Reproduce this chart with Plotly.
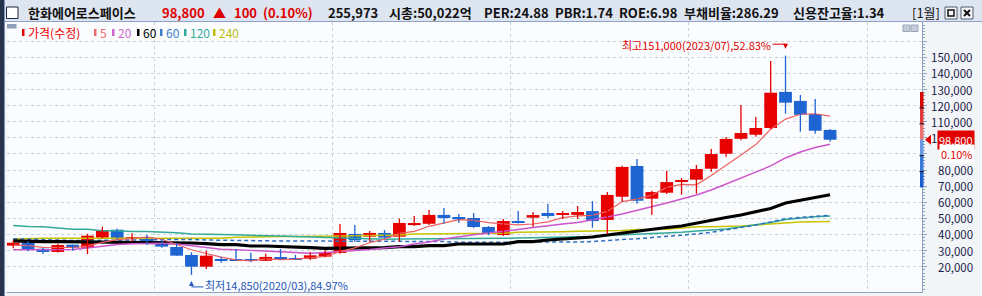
import plotly.graph_objects as go
import pandas as pd

# ---------------- data ----------------
months = [p.strftime("%Y/%m") for p in pd.period_range("2019-03", "2023-10", freq="M")]

opens = [33000, 35100, 31100, 29100, 33600, 31700, 38000, 42900, 37100, 38400,
         35900, 32200, 27200, 19950, 24700, 24700, 24700, 23600, 25400, 25300,
         24900, 26200, 28500, 40300, 38600, 40900, 38600, 45800, 46600, 52100,
         50800, 50200, 44600, 39600, 48300, 50400, 53300, 52100, 52100, 54500,
         49000, 63400, 82500, 62200, 65900, 72700, 74000, 80800, 90100, 99400,
         101900, 106100, 128500, 122900, 114800, 104900]
highs = [36100, 35900, 31700, 34200, 33700, 40400, 44800, 43500, 40700, 39600,
         37100, 34500, 28900, 29900, 26200, 30900, 28600, 28000, 30900, 27300,
         28900, 30300, 46500, 45800, 42100, 42700, 49800, 51400, 55200, 56400,
         52700, 53300, 45200, 49600, 54500, 53900, 58900, 54500, 57600, 60700,
         66300, 82700, 86800, 67100, 79600, 75000, 83100, 93000, 100500, 120400,
         112900, 147700, 151000, 126600, 124100, 105500]
lows = [31400, 29500, 27800, 28700, 29900, 27800, 37500, 37000, 35500, 33600,
        31700, 26700, 14850, 18500, 22400, 23600, 23000, 23500, 24500, 24400,
        24100, 25800, 28000, 35500, 35500, 37500, 35500, 45200, 45800, 46600,
        47300, 44000, 39600, 39000, 46800, 44800, 50200, 49600, 49600, 44200,
        40300, 60300, 59100, 52000, 65100, 64700, 65300, 78900, 88300, 98500,
        100700, 105500, 115000, 103800, 102500, 97600]
closes = [34850, 30300, 29100, 33400, 31700, 39200, 42100, 37300, 38400, 34700,
          32400, 26800, 19950, 26800, 23500, 24000, 23600, 26000, 24800, 24700,
          27000, 28900, 40900, 36500, 40900, 38000, 47100, 47100, 52100, 50200,
          49400, 44600, 40300, 48300, 47100, 52000, 51400, 53300, 53900, 48300,
          64500, 81900, 60900, 66300, 72500, 73800, 80600, 89900, 99300, 103000,
          106100, 128000, 121800, 114300, 104400, 98800]

ma5 = [33500, 33000, 32000, 32000, 31870, 32740, 35100, 36740, 37740, 38340,
       36980, 33920, 30450, 28130, 25890, 24210, 23570, 24780, 24380, 24620,
       25220, 26280, 29260, 31600, 34840, 37040, 40680, 41920, 45040, 46900,
       49180, 48680, 47320, 46560, 45940, 46460, 47820, 50420, 51540, 51780,
       54280, 60380, 61900, 64380, 69220, 71080, 70820, 76620, 83220, 89320,
       95780, 105260, 111640, 114640, 114920, 113460]
ma20 = [30500, 30500, 30500, 30500, 30600, 31550, 32610, 33730, 34160, 34480,
        34480, 34040, 32800, 31550, 30750, 30500, 30000, 29700, 28890, 28450,
        28260, 28760, 29260, 30000, 30630, 31560, 32360, 34040, 35280, 37140,
        38570, 39800, 40870, 41800, 43050, 44290, 45530, 46460, 47390, 48950,
        50810, 52670, 54850, 57020, 59500, 61990, 64470, 67580, 71310, 75040,
        78760, 82490, 87460, 91190, 93980, 95960]
ma60 = [36000, 35600, 35500, 35500, 35400, 35400, 35500, 35500, 35400, 35300,
        35100, 34660, 34660, 34230, 33600, 33600, 32800, 32800, 32360, 31740,
        31740, 31370, 31370, 31740, 31740, 31740, 32360, 32360, 32980, 32980,
        34040, 34040, 34040, 34040, 35470, 35470, 36520, 37140, 37760, 38390,
        39630, 40870, 41800, 43050, 44290, 45220, 47080, 48950, 50500, 52050,
        53910, 56090, 59500, 61370, 62920, 64660]
ma60b = [37330, 36960, 36520, 36210, 36210, 36210, 36210, 36330, 36520, 36710,
         36840, 36840, 36840, 36520, 36330, 36210, 36090, 36090, 35900, 35900,
         35900, 35900, 35720, 35720, 35720, 35720, 35720, 35720, 35720, 35590,
         35100, 35100, 35100, 35100, 35280, 35280, 35280, 35280, 35280, 35590,
         36330, 36840, 37330, 38080, 38570, 39630, 40250, 41310, 42740, 44290,
         45840, 47710, 49800, 50500, 51100, 51900]
ma120 = [45530, 44910, 44790, 43790, 43170, 43170, 42300, 42300, 41800, 41800,
         41490, 41050, 40250, 40250, 39820, 39820, 39440, 39010, 39010, 38700,
         38390, 37950, 37460, 37150, 36960, 36960, 37150, 37150, 37330, 37330,
         37460, 37580, 37580, 37580, 37760, 37950, 38080, 38200, 38200, 38700,
         39320, 39630, 39940, 40250, 40870, 41310, 42110, 42740, 43360, 44600,
         45840, 47390, 49200, 50100, 50900, 51400]
ma240 = [37140, 37580, 37580, 37580, 37580, 37580, 37580, 37580, 37580, 37580,
         37580, 37580, 37580, 37580, 37580, 38200, 38500, 38700, 38700, 38700,
         38700, 38700, 39000, 39200, 39200, 39300, 39630, 40250, 40250, 40690,
         40690, 40690, 40690, 40690, 41310, 41310, 41680, 41680, 41930, 42110,
         42110, 42420, 43050, 43170, 43170, 43980, 44790, 44790, 44910, 45220,
         45840, 46460, 47390, 47710, 47890, 48010]

# right-axis labels (90,000 is fully covered by the change box in the reference)
y_label_vals = [20000, 30000, 40000, 50000, 60000, 70000, 80000, 100000,
                110000, 120000, 130000, 140000, 150000]
y_grid_vals = [20000, 30000, 40000, 50000, 60000, 70000, 80000, 90000, 100000,
               110000, 120000, 130000, 140000, 150000, 160000]

legend_items = ["가격(수정)", "5", "20", "60", "60", "120", "240"]

# ---------------- layout helpers ----------------
W, H = 982, 296
ML, MR, MT, MB = 7, 60, 22, 4
PW, PH = W - ML - MR, H - MT - MB
FONT = "Noto Sans CJK KR"

def px(x):
    return (x - ML) / PW

def py(y):
    return (H - MB - y) / PH

RED = "#e60000"
BLUE = "#1e64d2"
AXC = "#8ea2c2"

idx = list(range(len(months)))
last = closes[-1]

fig = go.Figure()

# moving averages
ma_defs = [
    (ma240, "#c8c400", 1.5, "solid"),
    (ma120, "#33aa99", 1.5, "solid"),
    (ma60b, "#2f6fc0", 1.5, "4px,3px"),
    (ma60, "#000000", 3.2, "solid"),
    (ma20, "#cc55cc", 1.4, "solid"),
    (ma5, "#ee6060", 1.2, "solid"),
]
for vals, col, w, dash in ma_defs:
    fig.add_trace(go.Scatter(x=idx, y=vals, mode="lines",
                             line=dict(color=col, width=w, dash=dash),
                             hoverinfo="skip", showlegend=False))

# wicks
for up in (True, False):
    xs, ys = [], []
    for i in idx:
        if (closes[i] >= opens[i]) == up:
            xs += [i, i, None]
            ys += [lows[i], highs[i], None]
    fig.add_trace(go.Scatter(x=xs, y=ys, mode="lines",
                             line=dict(color=RED if up else BLUE, width=1.3),
                             hoverinfo="skip", showlegend=False))

# bodies
fig.add_trace(go.Bar(
    x=idx,
    base=[min(o, c) for o, c in zip(opens, closes)],
    y=[abs(c - o) for o, c in zip(opens, closes)],
    width=0.86,
    marker=dict(color=[RED if c >= o else BLUE for o, c in zip(opens, closes)],
                line=dict(width=0)),
    customdata=months, hovertemplate="%{customdata}<extra></extra>",
    showlegend=False))

year_lines = [i - 0.5 for i, m in enumerate(months) if m.endswith("/01")]
year_lines.append(year_lines[-1] + 12)

shapes = []
annotations = []

# window frame pieces
shapes.append(dict(type="rect", xref="paper", yref="paper", x0=px(0), x1=px(W),
                   y0=py(21), y1=py(0), fillcolor="#dde5f1", line_width=0, layer="above"))
shapes.append(dict(type="line", xref="paper", yref="paper", x0=px(0), x1=px(W),
                   y0=py(21.5), y1=py(21.5), line=dict(color="#8fa2c6", width=1)))
shapes.append(dict(type="rect", xref="paper", yref="paper", x0=px(0), x1=px(4),
                   y0=py(H), y1=py(0), fillcolor="#27324d", line_width=0))
shapes.append(dict(type="line", xref="paper", yref="paper", x0=px(4.5), x1=px(4.5),
                   y0=py(H), y1=py(0), line=dict(color="#7f93b8", width=1)))
# checkbox
shapes.append(dict(type="rect", xref="paper", yref="paper", x0=px(6.5), x1=px(18),
                   y0=py(18.5), y1=py(7), fillcolor="#ffffff", line=dict(color="#1a2340", width=1)))
# window buttons
for bx in (945, 961):
    shapes.append(dict(type="rect", xref="paper", yref="paper", x0=px(bx), x1=px(bx + 12),
                       y0=py(19), y1=py(7), fillcolor="#f4f6fa", line=dict(color="#505a6a", width=1)))
shapes.append(dict(type="rect", xref="paper", yref="paper", x0=px(948), x1=px(954),
                   y0=py(16), y1=py(10), fillcolor="rgba(0,0,0,0)", line=dict(color="#111", width=1.5)))
shapes.append(dict(type="line", xref="paper", yref="paper", x0=px(964), x1=px(970),
                   y0=py(16), y1=py(10), line=dict(color="#111", width=2)))
shapes.append(dict(type="line", xref="paper", yref="paper", x0=px(964), x1=px(970),
                   y0=py(10), y1=py(16), line=dict(color="#111", width=2)))
# small pane buttons
for bx in (903, 911):
    shapes.append(dict(type="rect", xref="paper", yref="paper", x0=px(bx), x1=px(bx + 7),
                       y0=py(31.5), y1=py(25), fillcolor="#c3ccd8", line=dict(color="#9aa6b8", width=1)))
# legend swatch gray
shapes.append(dict(type="rect", xref="paper", yref="paper", x0=px(7), x1=px(16.5),
                   y0=py(28.5), y1=py(24), fillcolor="#8f9fb8", line_width=0))

# title bar texts
title_items = [
    ("<b>한화에어로스페이스</b>", 27, "#111111"),
    (f"<b>{last:,}</b>", 161, "#e00000"),
    ("<b>▲</b>", 212, "#e00000"),
    ("<b>100</b>", 233, "#e00000"),
    ("<b>(0.10%)</b>", 262, "#e00000"),
    ("<b>255,973</b>", 327, "#111111"),
    ("<b>시총:50,022억</b>", 388, "#111111"),
    ("<b>PER:24.88</b>", 483, "#111111"),
    ("<b>PBR:1.74</b>", 554, "#111111"),
    ("<b>ROE:6.98</b>", 618, "#111111"),
    ("<b>부채비율:286.29</b>", 683, "#111111"),
    ("<b>신용잔고율:1.34</b>", 792, "#111111"),
    ("[1월]", 911, "#111111"),
]
for txt, x0, col in title_items:
    annotations.append(dict(text=txt, xref="paper", yref="paper", x=px(x0), y=py(13),
                            xanchor="left", yanchor="middle", showarrow=False,
                            font=dict(family=FONT, size=13, color=col), borderpad=0))

# legend row
leg_cols = ["#ee0000", "#e86a6a", "#cc66cc", "#000000", "#3c7cc4", "#33aa99", "#bcbc10"]
leg_x = [22, 94, 112, 137, 160, 184, 213]
for txt, col, lx in zip(legend_items, leg_cols, leg_x):
    shapes.append(dict(type="rect", xref="paper", yref="paper", x0=px(lx), x1=px(lx + 2.5),
                       y0=py(36), y1=py(29), fillcolor=col, line_width=0))
    annotations.append(dict(text=txt, xref="paper", yref="paper", x=px(lx + 5), y=py(32.5),
                            xanchor="left", yanchor="middle", showarrow=False,
                            font=dict(family=FONT, size=12, color=col), borderpad=0))

# y tick labels (right aligned)
for v in y_label_vals:
    annotations.append(dict(text=f"{v:,}", xref="paper", yref="y", x=1, y=v,
                            xanchor="right", yanchor="middle", xshift=52, showarrow=False,
                            font=dict(family=FONT, size=11.5, color="#1c2148"), borderpad=0))

# +-30% gauge next to axis
segs = [(0, 0.1, "#ec7070"), (0.1, 0.2, "#e03a3a"), (0.2, 0.3, "#d50808"),
        (-0.1, 0, "#6a98e0"), (-0.2, -0.1, "#3a78d8"), (-0.3, -0.2, "#1a5ccc")]
for a, b, col in segs:
    shapes.append(dict(type="rect", xref="paper", yref="y", xsizemode="pixel", xanchor=1,
                       x0=-2, x1=1.5, y0=last * (1 + a), y1=last * (1 + b),
                       fillcolor=col, line_width=0, layer="above"))
for k in (-0.2, -0.1, 0.1, 0.2):
    shapes.append(dict(type="line", xref="paper", yref="y", xsizemode="pixel", xanchor=1,
                       x0=-2.5, x1=2, y0=last * (1 + k), y1=last * (1 + k),
                       line=dict(color="#111111", width=1), layer="above"))
shapes.append(dict(type="path", xref="paper", yref="y", xsizemode="pixel", ysizemode="pixel",
                   xanchor=1, yanchor=last, path="M 3 0 L 9 5 L 9 -5 Z",
                   fillcolor="#e00000", line_width=0, layer="above"))

# price tag and change box
annotations.append(dict(text=f"{last:,}", xref="paper", yref="y", x=1, y=last,
                        xanchor="right", yanchor="middle", xshift=53, showarrow=False,
                        bgcolor="#e00000", font=dict(family=FONT, size=11, color="#ffffff"),
                        borderpad=1))
annotations.append(dict(text="0.10%", xref="paper", yref="y", x=1, y=last,
                        xanchor="right", yanchor="middle", xshift=53, yshift=-14, showarrow=False,
                        bgcolor="#ffffff", font=dict(family=FONT, size=11, color="#e00000"),
                        borderpad=1))

# high / low markers
hi_i = max(idx, key=lambda i: highs[i])
lo_i = min(idx, key=lambda i: lows[i])
hi_v, lo_v = highs[hi_i], lows[lo_i]
hi_pct = (hi_v - last) / last * 100
lo_pct = (last - lo_v) / last * 100

annotations.append(dict(text=f"최고{hi_v:,}({months[hi_i]}),{hi_pct:.2f}%", x=hi_i, y=hi_v,
                        xanchor="right", yanchor="middle", xshift=-14, yshift=11, showarrow=False,
                        font=dict(family=FONT, size=11, color="#e00000"), borderpad=0))
annotations.append(dict(text="", x=hi_i, y=hi_v, showarrow=True, ax=0, ay=-11.5, standoff=7,
                        arrowhead=2, arrowsize=1, arrowwidth=1, arrowcolor="#e00000"))
shapes.append(dict(type="line", xref="x", yref="y", xsizemode="pixel", ysizemode="pixel",
                   xanchor=hi_i, yanchor=hi_v, x0=-13, x1=0, y0=11.5, y1=11.5,
                   line=dict(color="#e00000", width=1)))

annotations.append(dict(text=f"최저{lo_v:,}({months[lo_i]}),{lo_pct:.2f}%", x=lo_i, y=lo_v,
                        xanchor="left", yanchor="middle", xshift=13, yshift=-10, showarrow=False,
                        font=dict(family=FONT, size=11, color="#2356b8"), borderpad=0))
annotations.append(dict(text="", x=lo_i, y=lo_v, showarrow=True, ax=0, ay=12, standoff=6,
                        arrowhead=2, arrowsize=1, arrowwidth=1, arrowcolor="#2356b8"))
shapes.append(dict(type="line", xref="x", yref="y", xsizemode="pixel", ysizemode="pixel",
                   xanchor=lo_i, yanchor=lo_v, x0=0, x1=12, y0=-12, y1=-12,
                   line=dict(color="#2356b8", width=1)))

fig.update_layout(
    width=W, height=H,
    margin=dict(l=ML, r=MR, t=MT, b=MB, pad=0),
    paper_bgcolor="#f2f5f8",
    plot_bgcolor="#fafcfd",
    barmode="overlay",
    showlegend=False,
    font=dict(family=FONT),
    xaxis=dict(range=[-0.42, 61.19], tickvals=year_lines, showticklabels=False, ticks="",
               showgrid=True, gridcolor="#c9d1da", griddash="dot", gridwidth=1,
               zeroline=False, showline=True, linecolor=AXC, linewidth=1, fixedrange=True),
    yaxis=dict(range=[4230, 171920], side="right", tickvals=y_grid_vals, showticklabels=False,
               ticks="outside", ticklen=4, tickcolor=AXC, tickwidth=1,
               showgrid=True, gridcolor="#c9d1da", griddash="dot", gridwidth=1,
               zeroline=False, showline=True, linecolor=AXC, linewidth=1,
               minor=dict(tickmode="linear", tick0=0, dtick=2000, ticks="outside",
                          ticklen=2, tickcolor=AXC, showgrid=False)),
    shapes=shapes,
    annotations=annotations,
)

fig.write_html("out.html")
